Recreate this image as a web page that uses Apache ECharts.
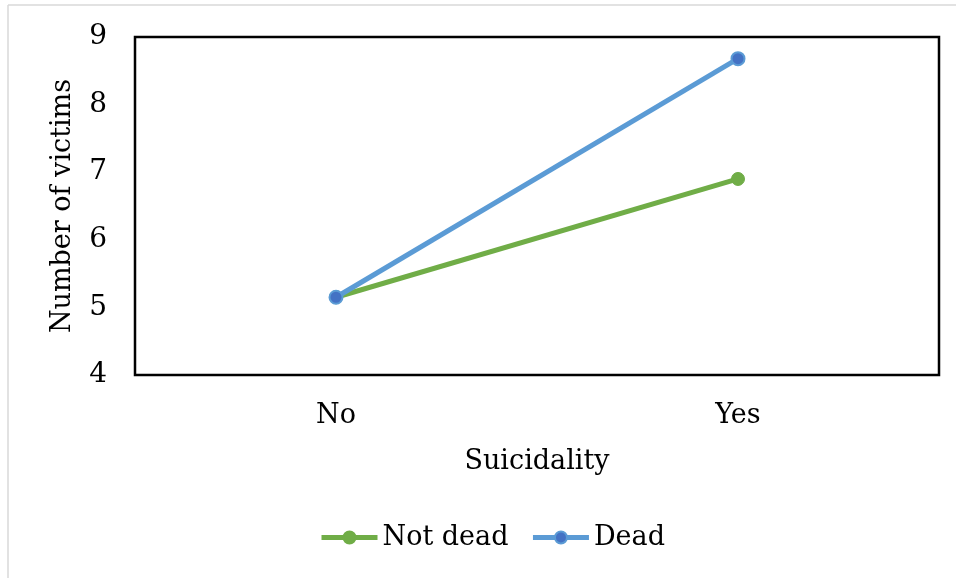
<!DOCTYPE html>
<html>
<head>
<meta charset="utf-8">
<script src="https://cdn.jsdelivr.net/npm/echarts@6/dist/echarts.min.js"></script>
<style>
  html, body { margin: 0; padding: 0; background: #fff; }
  #chart { width: 956px; height: 578px; }
</style>
</head>
<body>
<div id="chart"></div>
<script>
// chart data
const categories = ["No", "Yes"];
const notDead = [5.15, 6.9];
const dead = [5.15, 8.68];
const yTicks = [4, 5, 6, 7, 8, 9];

const font = "DejaVu Serif";
const chart = echarts.init(document.getElementById("chart"), null, { renderer: "canvas" });

const option = {
  animation: false,
  backgroundColor: "#fff",
  textStyle: { fontFamily: font, color: "#000" },
  grid: { left: 135, right: 17, top: 37, bottom: 203 },
  legend: {
    bottom: 22,
    left: 314,
    itemWidth: 56,
    itemHeight: 15,
    itemGap: 22,
    textStyle: { fontFamily: font, fontSize: 27, color: "#000" },
    lineStyle: { width: 5 },
    data: ["Not dead", "Dead"]
  },
  xAxis: {
    type: "category",
    data: categories,
    boundaryGap: true,
    name: "Suicidality",
    nameLocation: "middle",
    nameGap: 73,
    nameTextStyle: { fontFamily: font, fontSize: 27, color: "#000" },
    axisLine: { show: true, lineStyle: { color: "#000", width: 2 } },
    axisTick: { show: false },
    axisLabel: { fontFamily: font, fontSize: 27, color: "#000", margin: 27 }
  },
  yAxis: {
    type: "value",
    min: yTicks[0],
    max: yTicks[yTicks.length - 1],
    interval: 1,
    name: "Number of victims",
    nameLocation: "middle",
    nameGap: 59,
    nameTextStyle: { fontFamily: font, fontSize: 27, color: "#000" },
    axisLine: { show: true, lineStyle: { color: "#000", width: 2 } },
    axisTick: { show: false },
    splitLine: { show: false },
    axisLabel: { fontFamily: font, fontSize: 28, color: "#000", margin: 28 }
  },
  graphic: [
    // plot box
    {
      type: "rect",
      shape: { x: 135, y: 37, width: 804, height: 338 },
      style: { fill: null, stroke: "#000", lineWidth: 2.5 },
      z: 10
    },
    // faint page border
    { type: "line", shape: { x1: 8, y1: 5, x2: 956, y2: 5 }, style: { stroke: "#d9d9d9", lineWidth: 1.5 } },
    { type: "line", shape: { x1: 8, y1: 5, x2: 8, y2: 578 }, style: { stroke: "#d9d9d9", lineWidth: 1.5 } }
  ],
  series: [
    {
      name: "Not dead",
      type: "line",
      data: notDead,
      symbol: "circle",
      symbolSize: 13,
      lineStyle: { color: "#70AD47", width: 5 },
      itemStyle: { color: "#70AD47", borderColor: "#70AD47", borderWidth: 1 }
    },
    {
      name: "Dead",
      type: "line",
      data: dead,
      symbol: "circle",
      symbolSize: 13,
      lineStyle: { color: "#5B9BD5", width: 5 },
      itemStyle: { color: "#4472C4", borderColor: "#5B9BD5", borderWidth: 2 }
    }
  ]
};

chart.setOption(option);
</script>
</body>
</html>
